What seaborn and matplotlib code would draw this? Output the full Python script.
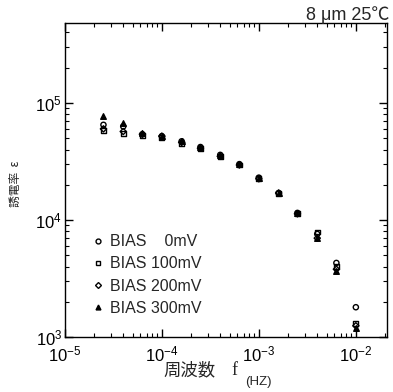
import numpy as np
import pandas as pd
import matplotlib
matplotlib.use("Agg")
import matplotlib.pyplot as plt
import seaborn as sns
from matplotlib.ticker import LogLocator, NullFormatter
from matplotlib.lines import Line2D

freq = [2.5e-5, 4.0e-5, 6.3e-5, 1.0e-4, 1.6e-4, 2.5e-4, 4.0e-4, 6.3e-4,
        1.0e-3, 1.6e-3, 2.5e-3, 4.0e-3, 6.3e-3, 1.0e-2]
eps_0mV = [6.5e4, 6.3e4, 5.4e4, 5.2e4, 4.7e4, 4.2e4, 3.6e4, 3.0e4, 2.3e4, 1.7e4, 1.15e4, 7.6e3, 4.3e3, 1.8e3]
eps_100mV = [5.8e4, 5.5e4, 5.3e4, 5.1e4, 4.5e4, 4.1e4, 3.5e4, 2.95e4, 2.25e4, 1.68e4, 1.13e4, 7.9e3, 4.0e3, 1.3e3]
eps_200mV = [6.0e4, 5.7e4, 5.4e4, 5.2e4, 4.6e4, 4.1e4, 3.5e4, 2.95e4, 2.25e4, 1.7e4, 1.13e4, 7.0e3, 3.8e3, 1.25e3]
eps_300mV = [7.7e4, 6.8e4, 5.5e4, 5.2e4, 4.7e4, 4.2e4, 3.6e4, 3.0e4, 2.3e4, 1.7e4, 1.14e4, 7.0e3, 3.7e3, 1.2e3]
labels = ["BIAS    0mV", "BIAS 100mV", "BIAS 200mV", "BIAS 300mV"]

sns.set_style("ticks")
plt.rcParams['font.family'] = ['Liberation Sans', 'Noto Sans CJK JP', 'DejaVu Sans']
plt.rcParams['mathtext.default'] = 'regular'

fig = plt.figure(figsize=(3.93, 3.92), dpi=100)
ax = fig.add_axes([0.165, 0.140, 0.820, 0.801])

series = [eps_0mV, eps_100mV, eps_200mV, eps_300mV]
markers = ['o', 's', 'D', '^']
sizes = [14, 12, 10, 16]
filled = [False, False, False, True]
for vals, m, s, f, lab in zip(series, markers, sizes, filled, labels):
    df = pd.DataFrame({'f': freq, 'eps': vals})
    sns.scatterplot(data=df, x='f', y='eps', marker=m, s=s, ax=ax,
                    facecolor='black' if f else 'none', edgecolor='black',
                    linewidth=1.0, legend=False)

ax.set_xscale('log')
ax.set_yscale('log')
ax.set_xlim(1e-5, 2.1e-2)
ax.set_ylim(1e3, 4.8e5)
ax.set_xlabel('')
ax.set_ylabel('')

for spine in ax.spines.values():
    spine.set_linewidth(1.0)
    spine.set_color('black')
ax.tick_params(which='both', direction='in', top=True, right=True, colors='black')
ax.tick_params(which='major', length=6, width=1.0, labelsize=12, pad=2)
ax.tick_params(axis='x', which='major', pad=5)
ax.tick_params(which='minor', length=3, width=0.8)
ax.xaxis.set_minor_locator(LogLocator(base=10, subs=np.arange(2, 10)))
ax.yaxis.set_minor_locator(LogLocator(base=10, subs=np.arange(2, 10)))
ax.xaxis.set_minor_formatter(NullFormatter())
ax.yaxis.set_minor_formatter(NullFormatter())

handles = []
for m, f in zip(markers, filled):
    handles.append(Line2D([], [], linestyle='none', marker=m, markersize=3.5 if m != 'D' else 3,
                          markerfacecolor='black' if f else 'none',
                          markeredgecolor='black', markeredgewidth=1.0))
ax.legend(handles, labels, loc='lower left', bbox_to_anchor=(0.035, 0.022),
          frameon=False, fontsize=11.5, handletextpad=0.25, labelspacing=0.45,
          handlelength=1.0)

fig.text(0.992, 0.949, '8 μm 25℃', ha='right', va='baseline', fontsize=13,
         family=['Liberation Sans', 'Noto Sans CJK JP', 'DejaVu Sans'])
fig.text(0.04, 0.53, '誘電率  ε', rotation=90, ha='center', va='center', fontsize=8.5,
         family=['Noto Sans CJK JP', 'DejaVu Sans'])
fig.text(0.415, 0.055, '周波数', ha='left', va='center', fontsize=12.5,
         family=['Noto Sans CJK JP', 'DejaVu Sans'])
fig.text(0.590, 0.055, 'f', ha='left', va='center', fontsize=13,
         family=['Liberation Serif', 'DejaVu Serif'])
fig.text(0.623, 0.026, '(HZ)', ha='left', va='center', fontsize=9.5,
         family=['Liberation Sans', 'DejaVu Sans'])

fig.savefig('out.png', dpi=100)
